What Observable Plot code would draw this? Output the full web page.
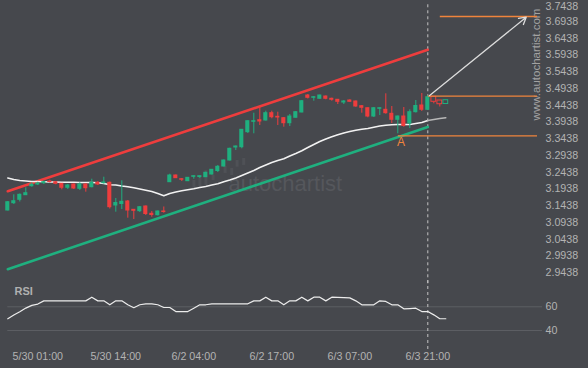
<!DOCTYPE html>
<html><head><meta charset="utf-8">
<script src="https://cdn.jsdelivr.net/npm/d3@7"></script>
<script src="https://cdn.jsdelivr.net/npm/@observablehq/plot@0.6"></script>
<style>
html,body{margin:0;padding:0;background:#46484d;}
#chart{position:relative;width:588px;height:368px;background:#46484d;overflow:hidden;font-family:"Liberation Sans",Arial,sans-serif;}
#chart svg{position:absolute;left:0;overflow:visible;background:transparent;}
</style></head><body><div id="chart"></div>
<script>
// ---- data (hourly candles, index 0..73) ----
const open = [3.1297,3.1515,3.1617,3.1754,3.2023,3.2074,3.2112,3.2163,3.2142,3.2094,
3.1975,3.2074,3.1945,3.2074,3.1993,3.2124,3.2112,3.2124,3.1447,3.1491,
3.1566,3.1318,3.1277,3.1417,3.1199,3.1157,3.1268,3.2142,3.2342,3.2232,
3.2172,3.2303,3.2297,3.2291,3.2372,3.2476,3.2611,3.2790,3.3178,3.3187,
3.3635,3.3945,3.3993,3.3984,3.4202,3.4094,3.4053,3.3903,3.4065,3.4223,
3.4730,3.4662,3.4632,3.4700,3.4632,3.4602,3.4521,3.4581,3.4551,3.4411,
3.4351,3.4103,3.4333,3.4303,3.4184,3.4005,3.4103,3.3894,3.4232,3.4432,
3.4303,3.4662,3.4551,3.4506];
const high = [3.1566,3.1766,3.1790,3.1975,3.2124,3.2142,3.2172,3.2202,3.2163,3.2103,
3.2074,3.2088,3.2124,3.2088,3.2232,3.2163,3.2291,3.2148,3.1656,3.2184,
3.1596,3.1327,3.1417,3.1432,3.1268,3.1282,3.1402,3.2381,3.2357,3.2253,
3.2282,3.2327,3.2327,3.2441,3.2521,3.2641,3.2805,3.3157,3.3223,3.3715,
3.3975,3.4202,3.4402,3.4262,3.4262,3.4232,3.4073,3.4163,3.4253,3.4581,
3.4760,3.4700,3.4739,3.4715,3.4650,3.4611,3.4581,3.4602,3.4566,3.4432,
3.4363,3.4372,3.4363,3.4781,3.4402,3.4118,3.4372,3.4303,3.4581,3.4790,
3.4730,3.4670,3.4557,3.4566];
const low = [3.1282,3.1477,3.1551,3.1745,3.1993,3.2044,3.2074,3.2118,3.2065,3.1915,
3.1924,3.1924,3.1894,3.1844,3.1975,3.2044,3.2088,3.1342,3.1247,3.1327,
3.1068,3.1029,3.1238,3.1148,3.1097,3.1133,3.1217,3.2133,3.2253,3.2163,
3.2163,3.2232,3.2253,3.2282,3.2357,3.2432,3.2596,3.2775,3.3088,3.3139,
3.3596,3.3587,3.3835,3.3969,3.4035,3.3835,3.3784,3.3805,3.4059,3.4214,
3.4626,3.4560,3.4620,3.4602,3.4560,3.4461,3.4461,3.4530,3.4381,3.4202,
3.4065,3.4073,3.4133,3.4172,3.3894,3.3587,3.3784,3.3745,3.4208,3.4253,
3.4282,3.4482,3.4387,3.4500];
const close = [3.1545,3.1575,3.1766,3.1814,3.2065,3.2103,3.2142,3.2148,3.2094,3.1975,
3.2044,3.1954,3.2074,3.1963,3.2124,3.2074,3.2133,3.1396,3.1521,3.1557,
3.1297,3.1288,3.1396,3.1193,3.1163,3.1268,3.1253,3.2342,3.2262,3.2214,
3.2273,3.2321,3.2321,3.2423,3.2512,3.2602,3.2790,3.3139,3.3208,3.3706,
3.3963,3.3963,3.3954,3.4202,3.4082,3.4073,3.3903,3.4103,3.4232,3.4560,
3.4662,3.4679,3.4730,3.4632,3.4602,3.4542,3.4551,3.4542,3.4402,3.4363,
3.4103,3.4351,3.4351,3.4202,3.4005,3.4103,3.3820,3.4232,3.4417,3.4303,
3.4679,3.4572,3.4500,3.4560];
const movingAverage = [3.2267,3.2223,3.2193,3.2178,3.2163,3.2163,3.2154,3.2148,3.2148,3.2142,
3.2142,3.2139,3.2133,3.2133,3.2133,3.2127,3.2103,3.2067,3.2059,3.2029,
3.2005,3.1975,3.1939,3.1900,3.1864,3.1805,3.1736,3.1805,3.1850,3.1888,
3.1918,3.1945,3.1984,3.2014,3.2059,3.2097,3.2157,3.2208,3.2267,3.2342,
3.2417,3.2491,3.2581,3.2655,3.2730,3.2790,3.2841,3.2924,3.2999,3.3082,
3.3178,3.3267,3.3357,3.3432,3.3497,3.3557,3.3611,3.3656,3.3694,3.3721,
3.3745,3.3781,3.3820,3.3841,3.3855,3.3864,3.3864,3.3864,3.3894,3.3924,
3.3984,3.4014,3.4044,3.4065];
const rsi = [49.9,53.1,55.9,58.9,61.2,62.3,65,65,65,65,
65,65,65,65,68.1,65,65,61.7,65,65,
61.7,59.2,61.7,62.5,62.5,61.7,59.4,59.4,56,56,
56,58.8,61.7,61.7,62.5,62.5,62.5,62.5,62.5,62.5,
62.5,65,65,68.1,65,65,61.7,65,65,68.1,
65,68.1,68.1,65,68.1,67.9,67.7,67.5,65,61.7,
61.7,61.7,65,64.5,61.7,61.7,58.3,58.5,58.8,56,
56,53.2,49.9,49.9];
const xTickIndex = [5, 18, 31, 44, 57, 70];
const xTickLabels = ["5/30 01:00","5/30 14:00","6/2 04:00","6/2 17:00","6/3 07:00","6/3 21:00"];
const priceTickLabels = ["3.7438","3.6938","3.6438","3.5938","3.5438","3.4938","3.4438","3.3938",
  "3.3438","3.2938","3.2438","3.1938","3.1438","3.0938","3.0438","2.9938","2.9438"];
const rsiTicks = [40, 60];
const channelUpper = [{i: 0, v: 3.1873}, {i: 70, v: 3.6094}];
const channelLower = [{i: 0, v: 2.9545}, {i: 70, v: 3.3790}];
const signalIndex = 70;
const levels = [
  {from: 70, to: 88.2, v: 3.4709},
  {from: 65, to: 88.2, v: 3.3527},
  {from: 72, to: 88.2, v: 3.7088}
];
const forecastArrow = [{x1: 70.3, y1: 3.4730, x2: 86.4, y2: 3.7067}];
const pointA = [{i: 65.55, v: 3.3336, label: "A"}];
// faint watermark logo bars
const logoBars = [
  {i: 31.1, lo: 3.1945, hi: 3.2193}, {i: 32.1, lo: 3.1954, hi: 3.2342},
  {i: 33.1, lo: 3.1993, hi: 3.2491}, {i: 34.3, lo: 3.2193, hi: 3.2342},
  {i: 36.3, lo: 3.2402, hi: 3.2611}, {i: 37.4, lo: 3.2342, hi: 3.2551},
  {i: 38.3, lo: 3.2590, hi: 3.2790}, {i: 39.4, lo: 3.2641, hi: 3.2850}
];

// ---- styling ----
const BG = "#46484d", GREEN = "#1fb07f", RED = "#ee3d3d", ORANGE = "#f0843c";
const TXT = "#b3b3b3", FONT = "'Liberation Sans', Arial, sans-serif", FS = 10.7;
const W = 588, MR = 46;
const xDomain = [-7.3 / 6, (W - MR - 7.3) / 6];
const PH = 285;
const yTop = 3.7566, yBottom = 3.7566 - PH / 335;

const candles = open.map((o, i) => ({i, o, h: high[i], l: low[i], c: close[i],
  lo: Math.min(o, close[i]), hi: Math.max(o, close[i]), up: close[i] >= o}));
const solid = candles.filter(d => d.i <= signalIndex);
const hollow = candles.filter(d => d.i > signalIndex);
const maPts = movingAverage.map((v, i) => ({i, v}));
const maA = maPts.filter(d => d.i <= signalIndex);
const maB = maPts.filter(d => d.i >= signalIndex);
const col = d => d.up ? GREEN : RED;
const priceTicks = priceTickLabels.map(Number);

const pricePlot = Plot.plot({
  width: W, height: PH, marginTop: 0, marginBottom: 0, marginLeft: 0, marginRight: MR,
  style: {background: "transparent", fontFamily: FONT, fontSize: FS + "px", overflow: "visible"},
  x: {domain: xDomain, axis: null},
  y: {domain: [yBottom, yTop], axis: null},
  marks: [
    Plot.rect(logoBars, {x1: d => d.i - 0.25, x2: d => d.i + 0.25, y1: "lo", y2: "hi", fill: "#4f5156"}),
    Plot.text(["autochartist"], {frameAnchor: "top-left", dx: 228, dy: 190.5, textAnchor: "start",
      lineAnchor: "bottom", fontSize: 22, fill: "#55575c"}),
    Plot.axisY(priceTicks.slice(1), {anchor: "right", tickSize: 0, tickPadding: 3,
      tickFormat: d => d.toFixed(4), fill: TXT, fontSize: FS, label: null}),
    Plot.axisY(priceTicks.slice(0, 1), {anchor: "right", tickSize: 0, tickPadding: 3, dy: 2,
      tickFormat: d => d.toFixed(4), fill: TXT, fontSize: FS, label: null}),
    Plot.text(["www.autochartist.com"], {frameAnchor: "top-right", dx: -6, dy: 64, rotate: -90,
      textAnchor: "middle", lineAnchor: "middle", fontSize: 11.5, fill: "#a2a2a2"}),
    Plot.ruleX([signalIndex], {y1: priceTicks[0], y2: yBottom, stroke: "#c4c4c4",
      strokeWidth: 1, strokeDasharray: "3,3"}),
    Plot.line(channelUpper, {x: "i", y: "v", stroke: RED, strokeWidth: 2.6}),
    Plot.line(channelLower, {x: "i", y: "v", stroke: GREEN, strokeWidth: 2.6}),
    Plot.line(maA, {x: "i", y: "v", stroke: "#f2f2f2", strokeWidth: 1.5}),
    Plot.line(maB, {x: "i", y: "v", stroke: "#b8b8b8", strokeWidth: 1.5}),
    Plot.ruleX(solid, {x: "i", y1: "l", y2: "h", stroke: col, strokeWidth: 1}),
    Plot.rect(solid, {x1: d => d.i - 0.34, x2: d => d.i + 0.34, y1: "lo", y2: "hi", fill: col,
      insetTop: -0.5, insetBottom: -0.5}),
    Plot.ruleX(hollow, {x: "i", y1: "l", y2: "h", stroke: col, strokeWidth: 1}),
    Plot.rect(hollow, {x1: d => d.i - 0.4, x2: d => d.i + 0.4, y1: "lo", y2: "hi", fill: BG,
      stroke: col, strokeWidth: 1, insetTop: -1, insetBottom: -1}),
    Plot.link(levels, {x1: "from", x2: "to", y1: "v", y2: "v", stroke: ORANGE, strokeWidth: 1.3}),
    Plot.arrow(forecastArrow, {x1: "x1", y1: "y1", x2: "x2", y2: "y2", stroke: "#dcdcdc",
      strokeWidth: 1.3, headLength: 9}),
    Plot.text(pointA, {x: "i", y: "v", text: "label", fill: ORANGE, fontSize: 12})
  ]
});
pricePlot.style.top = "0px";

const RT = 280, RH = 88, RMB = 23;
const rsiPts = rsi.map((v, i) => ({i, v}));
const rsiPlot = Plot.plot({
  width: W, height: RH, marginTop: 0, marginBottom: RMB, marginLeft: 0, marginRight: MR,
  style: {background: "transparent", fontFamily: FONT, fontSize: FS + "px", overflow: "visible"},
  x: {domain: xDomain, axis: null},
  y: {domain: [27.34, 82.19], axis: null},
  marks: [
    Plot.ruleY(rsiTicks, {x1: 0, x2: xDomain[1], stroke: "#5d5f64", strokeWidth: 1}),
    Plot.axisY(rsiTicks, {anchor: "right", tickSize: 0, tickPadding: 3, fill: TXT, fontSize: FS, label: null}),
    Plot.axisX(xTickIndex, {anchor: "bottom", tickSize: 0, tickPadding: 7, fill: TXT, fontSize: FS,
      label: null, tickFormat: d => xTickLabels[xTickIndex.indexOf(d)]}),
    Plot.ruleX([signalIndex], {stroke: "#c4c4c4", strokeWidth: 1, strokeDasharray: "3,3", insetBottom: -5}),
    Plot.line(rsiPts, {x: "i", y: "v", stroke: "#ececec", strokeWidth: 1.2}),
    Plot.text(["RSI"], {frameAnchor: "top-left", dx: 14, dy: 11, textAnchor: "start", lineAnchor: "middle",
      fontSize: 11, fontWeight: "bold", fill: "#b0b0b0"})
  ]
});
rsiPlot.style.top = RT + "px";

const chart = document.getElementById("chart");
chart.appendChild(pricePlot);
chart.appendChild(rsiPlot);
</script>
</body></html>
